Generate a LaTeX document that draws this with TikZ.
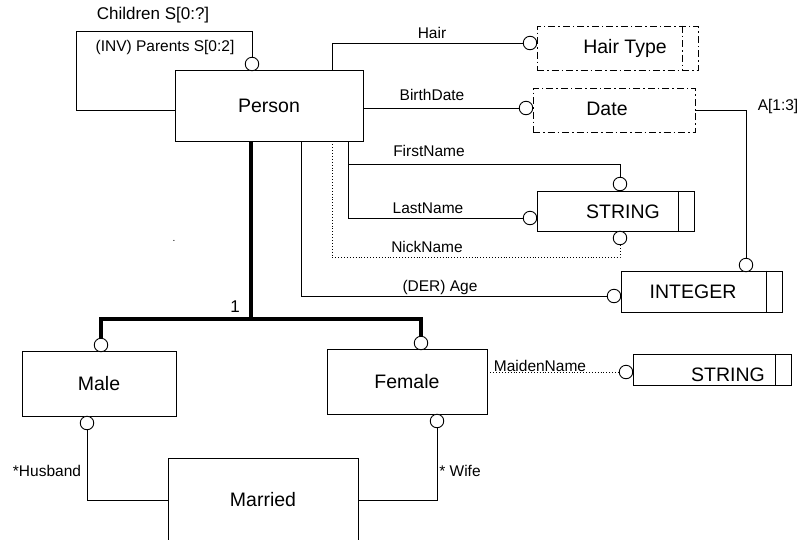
\documentclass[tikz,border=0pt]{standalone}
\usepackage{fontspec}
\setmainfont{Liberation Sans}
\usepackage{tikz}

\tikzset{
  ent/.style={draw, rectangle, inner sep=0pt, font=\fontsize{19.5}{22}\selectfont},
  deftype/.style={ent, dash pattern=on 7pt off 3pt on 1.5pt off 3pt},
  boxtxt/.style={inner sep=0pt, font=\fontsize{19.5}{22}\selectfont},
  ring/.style={draw, circle, fill=white, inner sep=0pt, minimum size=13.5pt},
  lbl/.style={inner sep=0pt, font=\fontsize{15.5}{18}\selectfont},
  subline/.style={line width=4pt},
}

\begin{document}
\begin{tikzpicture}[x=1pt, y=-1pt, line width=0.9pt]
\useasboundingbox (0,0) rectangle (801,539);
\clip (0,0) rectangle (801,539);

\draw (269,105.5) node[ent, minimum width=188pt, minimum height=71pt](person){Person}
    (99,383.5) node[ent, minimum width=154pt, minimum height=65pt](male){Male}
    (407,381.5) node[ent, minimum width=160pt, minimum height=65pt](female){Female}
    (263,500) node[ent, minimum width=190pt, minimum height=84pt](married){Married};

\draw (617.5,48) node[deftype, minimum width=161pt, minimum height=44pt,
        label={[boxtxt, xshift=7.5pt]center:Hair Type}](hairtype){}
    (614,110) node[deftype, minimum width=162pt, minimum height=44pt,
        label={[boxtxt, xshift=-7pt, yshift=1pt]center:Date}](date){}
    (615.5,211) node[ent, minimum width=157pt, minimum height=40pt,
        label={[boxtxt, xshift=7.5pt, yshift=-1pt]center:STRING}](string1){}
    (701.5,291.5) node[ent, minimum width=161pt, minimum height=41pt,
        label={[boxtxt, xshift=-8.5pt]center:INTEGER}](integer){}
    (712,369.5) node[ent, minimum width=158pt, minimum height=31pt,
        label={[boxtxt, xshift=16pt, yshift=-5pt]center:STRING}](string2){};

\draw[dash pattern=on 7pt off 3pt on 1.5pt off 3pt]
    ([xshift=-16pt]hairtype.north east) -- ([xshift=-16pt]hairtype.south east);
\foreach \n in {string1, integer, string2}
    \draw ([xshift=-16pt]\n.north east) -- ([xshift=-16pt]\n.south east);

\coordinate (loopa) at (76,110);
\coordinate (loopb) at (76,31);
\coordinate (fn) at (348,164);
\coordinate (nn) at (620,257);
\coordinate (split) at (251,319);

\draw (person.west |- loopa) -- (loopa) -- (loopb) -| (252,64);
\draw ([xshift=63pt]person.north) |- (530,43);
\draw (person.east |- 0,108) -- (526,108);
\draw ([xshift=79pt]person.south) |- (530,218);
\draw (fn) -| (620,184);
\draw[dotted] ([xshift=63pt]person.south) |- (nn) -- (620,238);
\draw ([xshift=32pt]person.south) |- (614,296);
\draw (date.east) -| (746,265);
\draw (87,423) |- (married.west);
\draw (437,421) |- (married.east);
\draw[dotted] (female.east |- 0,372) -- (626,372);

\draw[subline] ([xshift=-18pt]person.south) -- (split);
\draw[subline] (101,345) |- (split) -| (421,343);

\draw (252,64) node[ring](parc){}
    (530,43) node[ring](hairc){}
    (526,108) node[ring](datec){}
    (620,184) node[ring](firstc){}
    (530,218) node[ring](lastc){}
    (620,238) node[ring](nickc){}
    (614,296) node[ring](agec){}
    (746,265) node[ring](arrc){}
    (101,345) node[ring](malec){}
    (421,343) node[ring](femalec){}
    (87,423) node[ring](husbc){}
    (437,421) node[ring](wifec){}
    (626,372) node[ring](maidenc){};

\path (153,15) node[lbl, font=\fontsize{17}{20}\selectfont](children){Children S[0:?]}
    (165,47) node[lbl](parents){(INV) Parents S[0:2]}
    (432,33) node[lbl](hair){Hair}
    (432,95) node[lbl](birth){BirthDate}
    (778,106) node[lbl](arr){A[1:3]}
    (429,151) node[lbl](first){FirstName}
    (428,208) node[lbl](last){LastName}
    (427,247) node[lbl](nick){NickName}
    (440,287) node[lbl](age){(DER) Age}
    (235,307) node[lbl, font=\fontsize{17}{20}\selectfont](one){1}
    (47,471) node[lbl](husband){*Husband}
    (460,471) node[lbl](wife){* Wife}
    (540,366) node[lbl](maiden){MaidenName}
    (174,241) node[lbl, font=\fontsize{10}{12}\selectfont](dot){.};

\end{tikzpicture}
\end{document}
